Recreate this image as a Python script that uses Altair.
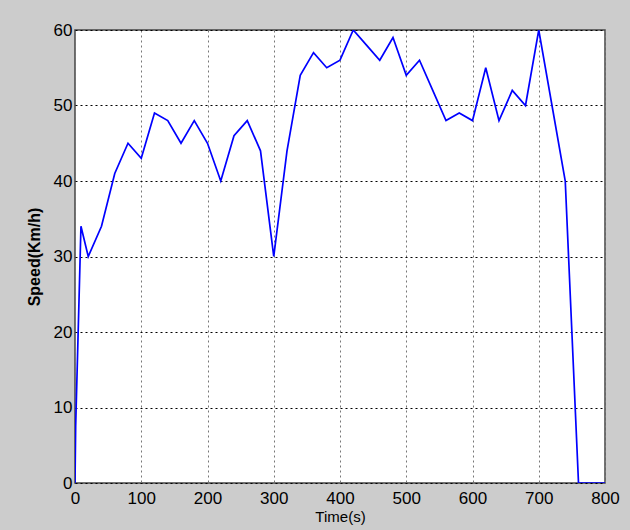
import altair as alt
import pandas as pd

time_s = [0, 1, 9, 20, 40, 60, 80, 100, 120, 140, 160, 180, 200, 220, 240, 260, 280,
          300, 320, 340, 360, 380, 400, 420, 440, 460, 480, 500, 520, 540, 560, 580,
          600, 620, 640, 660, 680, 700, 720, 740, 760, 780, 800]
speed_kmh = [0, 7.5, 34, 30, 34, 41, 45, 43, 49, 48, 45, 48, 45, 40, 46, 48, 44,
             30, 44, 54, 57, 55, 56, 60, 58, 56, 59, 54, 56, 52, 48, 49,
             48, 55, 48, 52, 50, 60, 50, 40, 0, 0, 0]
x_ticks = [0, 100, 200, 300, 400, 500, 600, 700, 800]
y_ticks = [0, 10, 20, 30, 40, 50, 60]

df = pd.DataFrame({"t": time_s, "v": speed_kmh})

FONT = "Liberation Sans, Arial, sans-serif"

chart = alt.Chart(df).mark_line(color="#0000ff", strokeWidth=1.7, clip=True).encode(
    x=alt.X("t:Q",
            scale=alt.Scale(domain=[0, 800], nice=False, zero=False),
            axis=alt.Axis(values=x_ticks, title="Time(s)", grid=True,
                          gridColor="#777777", gridDash=[2, 3], gridWidth=1,
                          domain=False, ticks=False, labelFlush=False,
                          labelOverlap=False, labelFont=FONT, labelFontSize=17,
                          labelColor="#000000", labelPadding=7,
                          titleFont=FONT, titleFontSize=15, titleFontWeight="normal",
                          titleColor="#000000", titlePadding=3)),
    y=alt.Y("v:Q",
            scale=alt.Scale(domain=[0, 60], nice=False, zero=False),
            axis=alt.Axis(values=y_ticks, title="Speed(Km/h)", grid=True,
                          gridColor="#000000", gridDash=[2, 3], gridWidth=1,
                          domain=False, ticks=False, labelFlush=False,
                          labelOverlap=False, labelFont=FONT, labelFontSize=17,
                          labelColor="#000000", labelPadding=3,
                          titleFont=FONT, titleFontSize=16, titleFontWeight="bold",
                          titleColor="#000000", titlePadding=11)),
).properties(
    width=530,
    height=453,
    background="#cccccc",
    padding={"left": 75, "top": 30, "right": 25, "bottom": 47},
    autosize=alt.AutoSizeParams(type="none"),
).configure_view(
    fill="#ffffff",
    stroke="#444444",
    strokeWidth=1.5,
)

chart.save("out.html", embed_options={"renderer": "svg", "actions": False})
